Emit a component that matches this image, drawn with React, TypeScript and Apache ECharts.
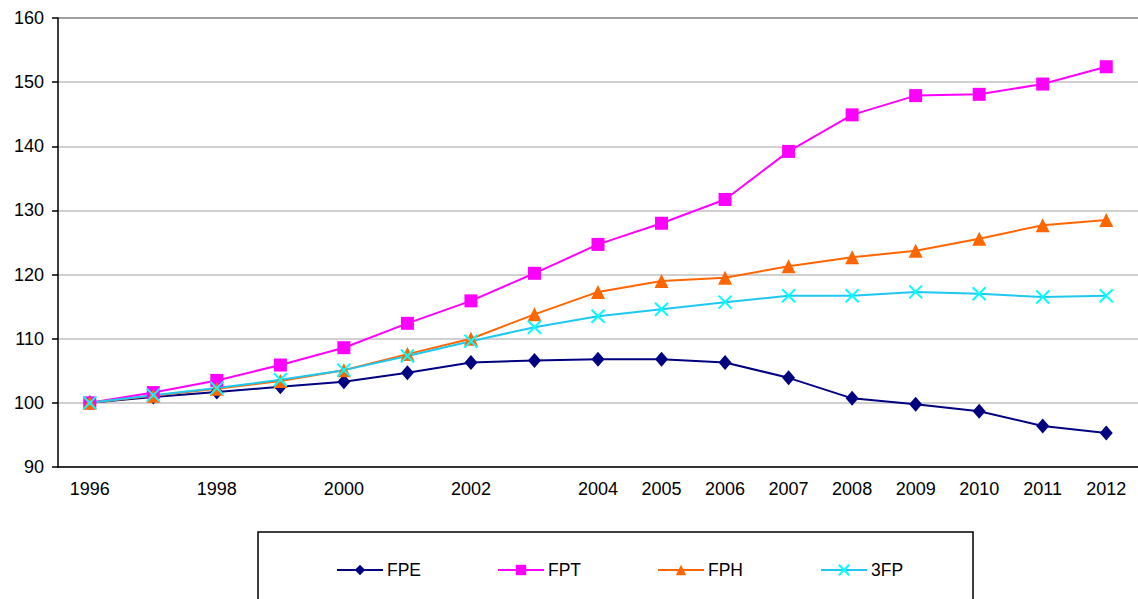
import React, { useEffect, useRef } from "react";
import * as echarts from "echarts";

const years = ["1996","1997","1998","1999","2000","2001","2002","2003","2004","2005","2006","2007","2008","2009","2010","2011","2012"];
const fpe = [100, 100.9, 101.7, 102.5, 103.3, 104.7, 106.3, 106.6, 106.8, 106.8, 106.3, 103.9, 100.7, 99.8, 98.7, 96.4, 95.3];
const fpt = [100, 101.6, 103.5, 105.9, 108.6, 112.4, 115.9, 120.2, 124.7, 128.0, 131.7, 139.2, 144.9, 147.9, 148.1, 149.7, 152.4];
const fph = [100, 101.1, 102.2, 103.4, 105.1, 107.6, 110.0, 113.8, 117.3, 119.0, 119.5, 121.3, 122.7, 123.7, 125.6, 127.7, 128.5];
const tfp = [100, 101.2, 102.3, 103.6, 105.1, 107.3, 109.6, 111.8, 113.5, 114.6, 115.7, 116.7, 116.7, 117.3, 117.0, 116.5, 116.7];
const yTicks = { min: 90, max: 160, interval: 10 };

export default function App() {
  const ref = useRef<HTMLDivElement>(null);
  useEffect(() => {
    if (!ref.current) return;
    const chart = echarts.init(ref.current, null, { renderer: "svg" });
    const font = "Liberation Sans, Arial, sans-serif";
    const xSym = "path://M0,0L10,10M10,0L0,10";
    const legendAt = (name: string, left: number) => ({
      data: [name],
      left,
      top: 561,
      padding: 0,
      orient: "horizontal",
      itemWidth: 46,
      itemHeight: 13,
      itemGap: 0,
      selectedMode: false,
      textStyle: { color: "#000", fontSize: 17.5, fontFamily: font, padding: [0, 0, 0, -1] },
    });
    chart.setOption({
      animation: false,
      backgroundColor: "#fff",
      grid: { left: 58, right: 0, top: 18, bottom: 132, containLabel: false },
      graphic: [
        {
          type: "rect",
          z: 0,
          shape: { x: 258, y: 532, width: 715, height: 100 },
          style: { fill: "#fff", stroke: "#000", lineWidth: 1.5 },
        },
      ],
      legend: [
        legendAt("FPE", 336),
        legendAt("FPT", 497),
        legendAt("FPH", 657),
        legendAt("3FP", 820),
      ],
      xAxis: {
        type: "category",
        data: years,
        boundaryGap: true,
        axisLine: { lineStyle: { color: "#000", width: 1.5 } },
        axisTick: { interval: 0, length: 6, lineStyle: { color: "#000", width: 1.5 } },
        axisLabel: {
          interval: (i: number) => (i <= 8 ? i % 2 === 0 : true),
          color: "#000",
          fontSize: 18,
          fontFamily: font,
          margin: 13,
        },
        splitLine: { show: false },
      },
      yAxis: {
        type: "value",
        min: yTicks.min,
        max: yTicks.max,
        interval: yTicks.interval,
        axisLine: { show: true, lineStyle: { color: "#000", width: 1.5 } },
        axisTick: { show: true, length: 6, lineStyle: { color: "#000", width: 1.5 } },
        axisLabel: { color: "#000", fontSize: 18, fontFamily: font, margin: 14 },
        splitLine: {
          lineStyle: {
            color: ["#c0c0c0", "#c0c0c0", "#c0c0c0", "#c0c0c0", "#c0c0c0", "#c0c0c0", "#c0c0c0", "#808080"],
            width: 1.5,
          },
        },
      },
      series: [
        {
          name: "FPE",
          type: "line",
          data: fpe,
          symbol: "diamond",
          symbolSize: [13, 15],
          lineStyle: { color: "#000080", width: 2 },
          itemStyle: { color: "#000080" },
        },
        {
          name: "FPT",
          type: "line",
          data: fpt,
          symbol: "rect",
          symbolSize: 13,
          lineStyle: { color: "#FF00FF", width: 2 },
          itemStyle: { color: "#FF00FF" },
        },
        {
          name: "FPH",
          type: "line",
          data: fph,
          symbol: "triangle",
          symbolSize: 14,
          lineStyle: { color: "#FF6600", width: 2 },
          itemStyle: { color: "#FF6600" },
        },
        {
          name: "3FP",
          type: "line",
          data: tfp,
          symbol: xSym,
          symbolSize: 13,
          lineStyle: { color: "#1EC8F0", width: 2 },
          itemStyle: { color: "#00FFFF", borderColor: "#00FFFF", borderWidth: 2 },
        },
      ],
    });
    return () => chart.dispose();
  }, []);
  return (
    <div
      ref={ref}
      style={{ position: "fixed", left: 0, top: 0, width: 1138, height: 599 }}
    />
  );
}
